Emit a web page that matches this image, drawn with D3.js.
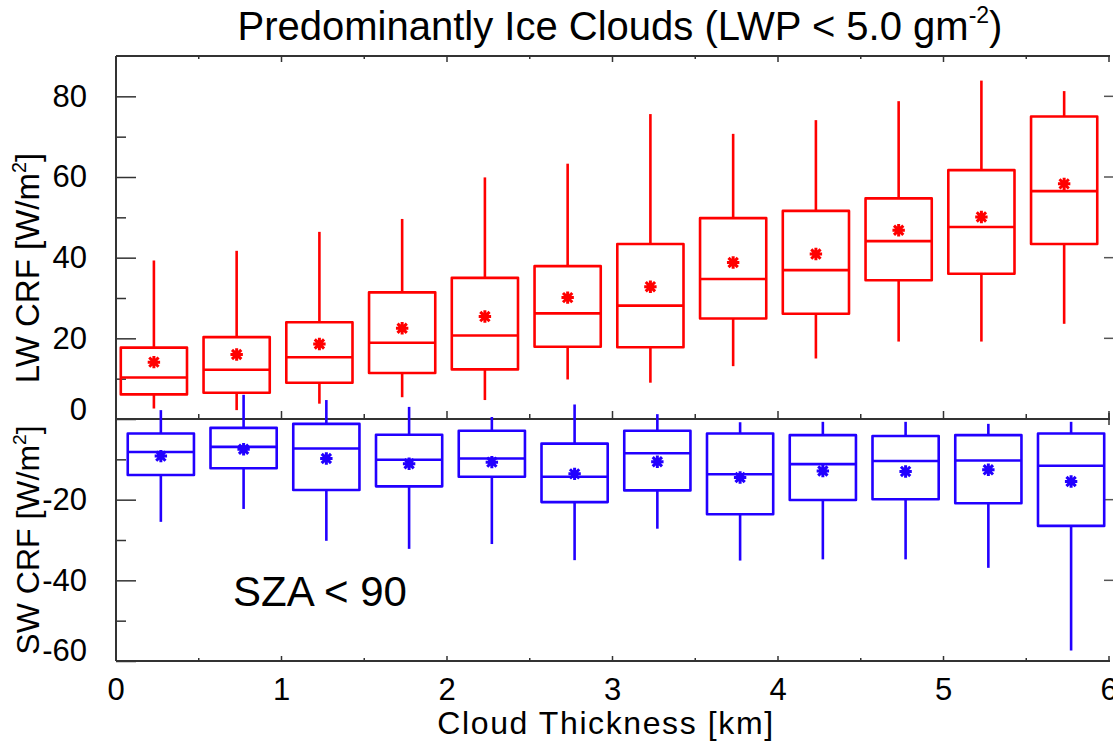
<!DOCTYPE html>
<html>
<head>
<meta charset="utf-8">
<script src="https://cdn.jsdelivr.net/npm/d3@7"></script>
<style>
  body { margin: 0; background: #fff; }
  text { font-family: "Liberation Sans", Helvetica, Arial, sans-serif; fill: #000; }
</style>
</head>
<body>
<script>
// bin centres (cloud thickness, km)
const binCenters = [0.25, 0.75, 1.25, 1.75, 2.25, 2.75, 3.25, 3.75, 4.25, 4.75, 5.25, 5.75];

// LW CRF (W/m2) box stats per bin
const lwLow    = [2.6, 2.2, 3.8, 5.4, 4.7, 9.8, 9.0, 13.1, 15.0, 19.2, 19.2, 23.6];
const lwQ1     = [6.1, 6.5, 9.0, 11.4, 12.3, 17.9, 17.8, 24.9, 26.1, 34.4, 36.0, 43.4];
const lwMedian = [10.3, 12.2, 15.3, 18.9, 20.7, 26.2, 28.1, 34.7, 36.9, 44.1, 47.6, 56.5];
const lwQ3     = [17.7, 20.3, 24.0, 31.4, 35.0, 37.9, 43.4, 49.8, 51.6, 54.7, 61.7, 75.0];
const lwHigh   = [39.3, 41.7, 46.4, 49.6, 59.9, 63.3, 75.6, 70.7, 74.1, 78.8, 83.9, 81.3];
const lwMean   = [14.1, 16.0, 18.6, 22.5, 25.4, 30.1, 32.8, 38.8, 40.9, 46.8, 50.1, 58.3];

// SW CRF (W/m2) box stats per bin
const swLow    = [-25.5, -22.3, -30.2, -32.2, -31.0, -35.0, -27.2, -35.1, -34.8, -34.8, -36.9, -57.4];
const swQ1     = [-13.9, -12.2, -17.6, -16.7, -14.3, -20.6, -17.7, -23.6, -20.1, -19.9, -20.9, -26.5];
const swMedian = [-8.2, -6.9, -7.3, -10.1, -9.8, -14.3, -8.5, -13.7, -11.2, -10.4, -10.3, -11.6];
const swQ3     = [-3.6, -2.2, -1.2, -3.9, -2.9, -6.1, -2.9, -3.6, -4.0, -4.2, -4.0, -3.6];
const swHigh   = [2.2, 6.0, 4.7, 3.0, 0.5, 3.6, 1.2, -0.8, -0.7, -0.7, -1.2, -0.7];
const swMean   = [-9.2, -7.5, -9.8, -11.1, -10.7, -13.6, -10.6, -14.5, -12.9, -13.0, -12.6, -15.5];

const xTicks = [0, 1, 2, 3, 4, 5, 6];
const lwTicks = [0, 20, 40, 60, 80];
const lwMinor = [10, 30, 50, 70];
const swTicks = [-20, -40, -60];
const swMinor = [-10, -30, -50];

const width = 1113, height = 742;
const plotLeft = 116, plotRight = 1109, plotTop = 56, plotBottom = 661;
const axisColor = "#333";

const svg = d3.select("body").append("svg")
  .attr("width", width)
  .attr("height", height);

svg.append("rect").attr("width", width).attr("height", height).attr("fill", "#fff");

const x = d3.scaleLinear().domain([0, 6]).range([plotLeft, plotRight]);
const y = d3.scaleLinear().domain([-60, 90]).range([plotBottom, plotTop]);
const y0 = y(0);

// frame lines (no right side line in the original)
svg.append("line").attr("x1", plotLeft).attr("x2", plotLeft).attr("y1", plotTop).attr("y2", plotBottom)
  .attr("stroke", axisColor).attr("stroke-width", 2);
[plotTop, y0, plotBottom].forEach(yy => {
  svg.append("line").attr("x1", plotLeft).attr("x2", plotRight + 1).attr("y1", yy).attr("y2", yy)
    .attr("stroke", axisColor).attr("stroke-width", 2);
});

// x ticks on the three horizontal axes
const xMinor = d3.range(0.5, 6, 1);
function xTickRow(yy, dir, majLen, minLen) {
  svg.append("g").selectAll("line").data(xTicks).join("line")
    .attr("x1", d => x(d)).attr("x2", d => x(d))
    .attr("y1", yy).attr("y2", yy + dir * majLen)
    .attr("stroke", axisColor).attr("stroke-width", 1.5);
  svg.append("g").selectAll("line").data(xMinor).join("line")
    .attr("x1", d => x(d)).attr("x2", d => x(d))
    .attr("y1", yy).attr("y2", yy + dir * minLen)
    .attr("stroke", axisColor).attr("stroke-width", 1.5);
}
xTickRow(plotTop, 1, 6, 3);
xTickRow(y0, -1, 8, 5);
xTickRow(plotBottom, -1, 5, 3);
// little cross at right end of middle axis
svg.append("line").attr("x1", x(6)).attr("x2", x(6)).attr("y1", y0 - 6).attr("y2", y0 + 6)
  .attr("stroke", axisColor).attr("stroke-width", 1.5);

// left axis ticks via d3 axes (domain removed)
function leftAxis(vals, len, labels) {
  const g = svg.append("g").attr("transform", `translate(${plotLeft},0)`)
    .call(d3.axisLeft(y).tickValues(vals).tickSize(-len).tickPadding(len + 9)
      .tickFormat(labels ? (d => String(d)) : ""));
  g.select(".domain").remove();
  g.selectAll(".tick line").attr("stroke", axisColor).attr("stroke-width", 1.5);
  g.selectAll(".tick text").attr("font-size", 31).attr("fill", "#000")
    .attr("font-family", "Liberation Sans, Arial, sans-serif");
  return g;
}
const lwAxis = leftAxis(lwTicks, 20, true);
leftAxis(lwMinor, 10, false);
const swAxis = leftAxis(swTicks, 20, true);
leftAxis(swMinor, 10, false);
// the bottom label of each panel sits a bit higher
lwAxis.selectAll(".tick text").filter(d => d === 0).attr("dy", "0.02em");
swAxis.selectAll(".tick text").filter(d => d === -60).attr("dy", "-0.03em");

// right side ticks (majors only)
svg.append("g").selectAll("line").data([20, 40, 60, 80, -20, -40]).join("line")
  .attr("x1", plotRight - 5).attr("x2", plotRight + 5)
  .attr("y1", d => y(d)).attr("y2", d => y(d))
  .attr("stroke", "#555").attr("stroke-width", 1.5);

// x tick labels
svg.append("g").selectAll("text").data(xTicks).join("text")
  .attr("x", d => x(d)).attr("y", plotBottom + 39)
  .attr("text-anchor", "middle").attr("font-size", 31)
  .text(d => d);

// box plots
const boxHalf = 0.2;
function drawBoxes(low, q1, med, q3, high, mean, color, shift) {
  const g = svg.append("g")
    .attr("fill", "none").attr("stroke", color).attr("stroke-width", 2.6)
    .attr("stroke-linejoin", "round");
  binCenters.forEach((c, i) => {
    const cx = x(c + shift);
    const x0 = x(c + shift - boxHalf), x1 = x(c + shift + boxHalf);
    g.append("line").attr("x1", cx).attr("x2", cx).attr("y1", y(high[i])).attr("y2", y(q3[i]));
    g.append("line").attr("x1", cx).attr("x2", cx).attr("y1", y(q1[i])).attr("y2", y(low[i]));
    g.append("rect").attr("x", x0).attr("y", y(q3[i]))
      .attr("width", x1 - x0).attr("height", y(q1[i]) - y(q3[i]));
    g.append("line").attr("x1", x0).attr("x2", x1).attr("y1", y(med[i])).attr("y2", y(med[i]));
    // asterisk for the mean
    const my = y(mean[i]), r = 6.2, d = r * 0.75;
    g.append("path")
      .attr("d", `M${cx - r},${my}H${cx + r}M${cx},${my - r}V${my + r}` +
                 `M${cx - d},${my - d}L${cx + d},${my + d}M${cx - d},${my + d}L${cx + d},${my - d}`)
      .attr("stroke-width", 3).attr("stroke-linecap", "butt");
  });
}
drawBoxes(lwLow, lwQ1, lwMedian, lwQ3, lwHigh, lwMean, "#ff0000", -0.021);
drawBoxes(swLow, swQ1, swMedian, swQ3, swHigh, swMean, "#2200ff", 0.021);

// titles
const title = svg.append("text").attr("x", 620).attr("y", 40)
  .attr("text-anchor", "middle").attr("font-size", 40);
title.append("tspan").text("Predominantly Ice Clouds (LWP < 5.0 gm");
title.append("tspan").attr("font-size", 23).attr("dy", -17).text("-2");
title.append("tspan").attr("dy", 17).text(")");

svg.append("text").attr("x", 606).attr("y", 734)
  .attr("text-anchor", "middle").attr("font-size", 32).attr("letter-spacing", 1.6)
  .text("Cloud Thickness [km]");

function yTitle(label, cy, size) {
  const t = svg.append("text")
    .attr("transform", `translate(39,${cy}) rotate(-90)`)
    .attr("text-anchor", "middle").attr("font-size", size);
  t.append("tspan").text(label + " [W/m");
  t.append("tspan").attr("font-size", size * 0.6).attr("dy", -size * 0.4).text("2");
  t.append("tspan").attr("dy", size * 0.4).text("]");
}
yTitle("LW CRF", 268, 33);
yTitle("SW CRF", 540, 32);

svg.append("text").attr("x", 233).attr("y", 606)
  .attr("font-size", 42).text("SZA < 90");
</script>
</body>
</html>
